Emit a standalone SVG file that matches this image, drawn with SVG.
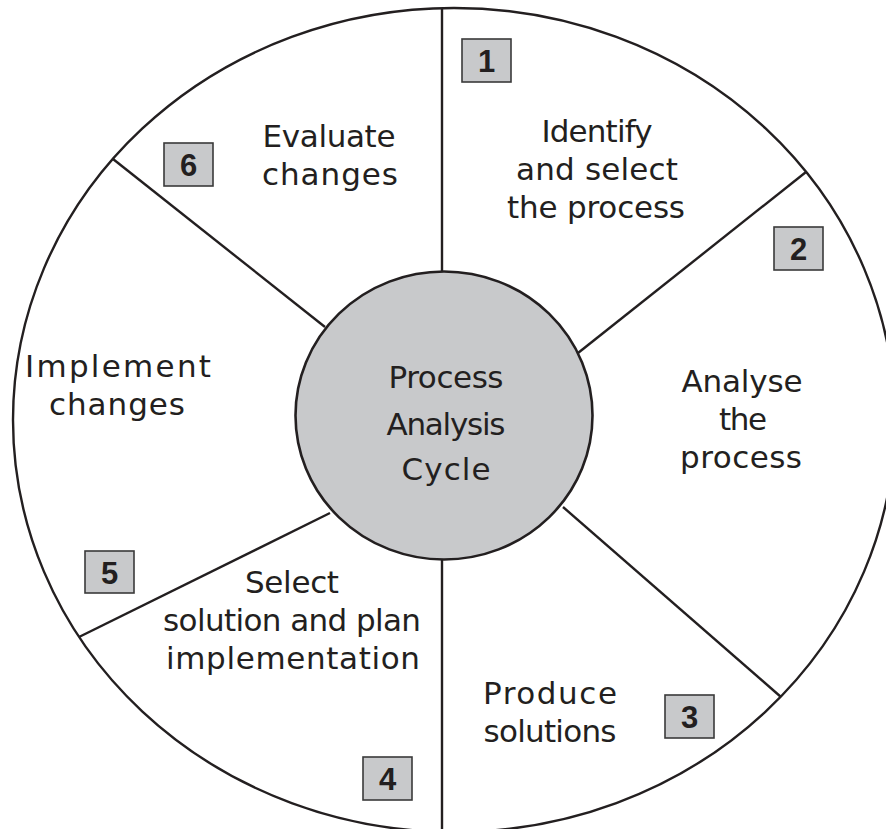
<svg xmlns="http://www.w3.org/2000/svg" width="886" height="829" viewBox="0 0 886 829">
<style>
.line{stroke:#231f20;stroke-width:2.4;fill:none}
.lbl{font-family:"DejaVu Sans","Liberation Sans",sans-serif;font-size:31px;fill:#231f20;text-anchor:middle}
.box{fill:#c8c9cb;stroke:#3a3a3a;stroke-width:1.6}
.num{font-family:"Liberation Sans",Arial,sans-serif;font-weight:bold;font-size:31px;fill:#231f20;text-anchor:middle}
</style>
<rect width="886" height="829" fill="#ffffff"/>
<g id="outer">
<ellipse class="line" cx="454" cy="420" rx="441" ry="412"/>
</g>
<g id="connectors">
<line class="line" x1="442" y1="8" x2="442" y2="300"/>
<line class="line" x1="442" y1="540" x2="442" y2="829"/>
<line class="line" x1="578" y1="353" x2="806" y2="172"/>
<line class="line" x1="563" y1="507" x2="781" y2="697"/>
<line class="line" x1="325" y1="327" x2="113" y2="159"/>
<line class="line" x1="330" y1="513" x2="79" y2="637"/>
</g>
<g id="center">
<ellipse cx="444" cy="415.5" rx="148.5" ry="144" fill="#c8c9cb" stroke="#231f20" stroke-width="2.6"/>
<text class="lbl" x="446" y="388" textLength="115">Process</text>
<text class="lbl" x="446" y="435" textLength="119">Analysis</text>
<text class="lbl" x="446" y="480" textLength="89">Cycle</text>
</g>
<g id="step1">
<rect class="box" x="462" y="39" width="49" height="43"/>
<text class="num" x="486.5" y="71.5">1</text>
<text class="lbl" x="597" y="141.5" textLength="111">Identify</text>
<text class="lbl" x="597" y="179.5" textLength="162">and select</text>
<text class="lbl" x="596" y="217.5" textLength="178">the process</text>
</g>
<g id="step2">
<rect class="box" x="774" y="227" width="49" height="43"/>
<text class="num" x="798.5" y="259.5">2</text>
<text class="lbl" x="742" y="391.5" textLength="121">Analyse</text>
<text class="lbl" x="743" y="429.5" textLength="48">the</text>
<text class="lbl" x="741" y="467.5" textLength="122">process</text>
</g>
<g id="step3">
<rect class="box" x="665" y="695" width="49" height="43"/>
<text class="num" x="689.5" y="727.5">3</text>
<text class="lbl" x="550" y="704" textLength="134">Produce</text>
<text class="lbl" x="550" y="742" textLength="133">solutions</text>
</g>
<g id="step4">
<rect class="box" x="363" y="757" width="49" height="43"/>
<text class="num" x="387.5" y="789.5">4</text>
<text class="lbl" x="292" y="593" textLength="94">Select</text>
<text class="lbl" x="292" y="631" textLength="258">solution and plan</text>
<text class="lbl" x="293" y="669" textLength="254">implementation</text>
</g>
<g id="step5">
<rect class="box" x="85" y="551" width="49" height="42"/>
<text class="num" x="109.5" y="583.5">5</text>
<text class="lbl" x="118" y="377" textLength="186">Implement</text>
<text class="lbl" x="117" y="415" textLength="136">changes</text>
</g>
<g id="step6">
<rect class="box" x="164" y="143" width="49" height="43"/>
<text class="num" x="188.5" y="175.5">6</text>
<text class="lbl" x="329" y="147" textLength="133">Evaluate</text>
<text class="lbl" x="330" y="185" textLength="136">changes</text>
</g>
</svg>
